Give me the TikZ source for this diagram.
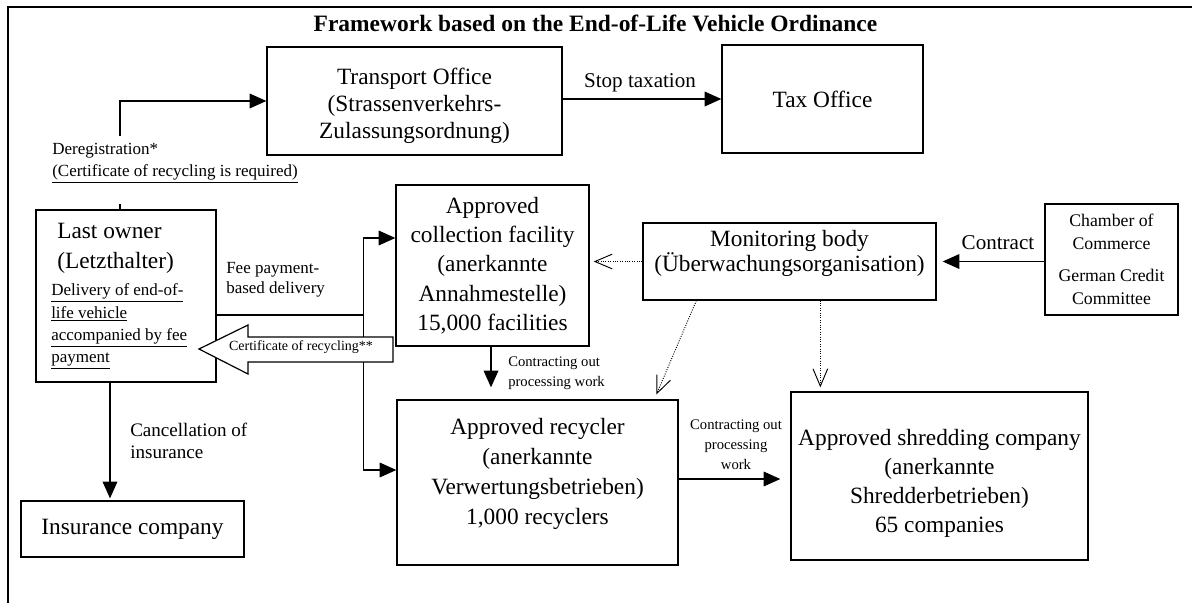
\documentclass[tikz,border=0pt]{standalone}
\usepackage{fontspec}
\setmainfont{Liberation Serif}
\usetikzlibrary{arrows.meta,calc}

\begin{document}
\begin{tikzpicture}[x=0.75pt,y=-0.75pt,
  every node/.style={inner sep=0pt},
  box/.style={draw,line width=1pt,rectangle,align=center},
  bw/.style={minimum width=#1*0.75pt},
  bh/.style={minimum height=#1*0.75pt},
  big/.style={font=\fontsize{17.5}{#1}\selectfont,align=center},
  big/.default=21,
  mid/.style={font=\fontsize{15.8}{19}\selectfont},
  small/.style={font=\fontsize{12.75}{#1}\selectfont},
  small/.default=16.5,
  note/.style={font=\fontsize{11}{#1}\selectfont},
  note/.default=15,
  conn/.style={line width=0.9pt},
  flow/.style={line width=0.9pt,-{Triangle[length=12.5pt,width=11pt]}},
  watch/.style={line width=0.7pt,dash pattern=on 0.7pt off 1.1pt,
    -{Straight Barb[length=13pt,width=11pt,line width=0.7pt]}}
]
\useasboundingbox (0,0) rectangle (1192,603);

% outer frame (left and top edges)
\draw[line width=1pt] (8,603) -- (8,7) -- (1192,7);

\node[font=\bfseries\fontsize{17.6}{21}\selectfont] (title) at (595.5,23)
  {Framework based on the End-of-Life Vehicle Ordinance};

% ---- boxes ----
\node[box,bw=295,bh=108] (transport) at (414.5,101) {};
\node[big=20.25] (transporttext) at (414.5,106)
  {Transport Office\\(Strassenverkehrs-\\Zulassungsordnung)};
\node[box,bw=201,bh=108,big] (tax) at (822.5,99) {Tax Office};

\node[box,bw=180,bh=172] (owner) at (126,296) {};
\node[anchor=west,align=left,font=\fontsize{17.5}{22.5}\selectfont] (ownername) at (57,248)
  {Last owner\\(Letzthalter)};
\node[anchor=west,align=left,small=16.75] (ownernote) at (51,326.5)
  {\underline{Delivery of end-of-}\\\underline{life vehicle}\\\underline{accompanied by fee}\\\underline{payment}};

\node[box,bw=193,bh=161,big=22] (collect) at (492.5,265.5)
  {Approved\\collection facility\\(anerkannte\\Annahmestelle)\\15,000 facilities};

\node[box,bw=293,bh=77] (monitor) at (789.5,261.5) {};
\node[big=19] (monitortext) at (789.5,253.5) {Monitoring body\\(Überwachungsorganisation)};

\node[box,bw=133,bh=111,font=\fontsize{13.3}{17.25}\selectfont] (chamber) at (1111.5,259.5)
  {Chamber of\\Commerce\\[6.75pt]German Credit\\Committee};

\node[box,bw=281,bh=165] (recycler) at (537.5,482.5) {};
\node[big=22.5] (recyclertext) at (537.5,473.5)
  {Approved recycler\\(anerkannte\\Verwertungsbetrieben)\\1,000 recyclers};

\node[box,bw=297,bh=168] (shredder) at (939.5,476) {};
\node[big=21.75] (shreddertext) at (939.5,483.5)
  {Approved shredding company\\(anerkannte\\Shredderbetrieben)\\65 companies};

\node[box,bw=223,bh=56,big] (insurance) at (132.5,529) {Insurance company};

% ---- deregistration ----
\coordinate (dregA) at ($(owner.north)+(-6,0)$);
\coordinate (dregB) at ($(dregA)+(0,-5)$);
\coordinate (dregC) at ($(dregA)+(0,-73)$);
\draw[conn] (dregA) -- (dregB);
\draw[flow] (dregC) |- (transport.west);
\node[anchor=west,align=left,small=16.5] (dreglabel) at (52,163)
  {Deregistration*\\\underline{(Certificate of recycling is required)}};

% ---- tax ----
\draw[flow] (transport.east |- tax.west) -- (tax.west);
\node[mid] (stoplabel) at (640,83) {Stop taxation};

% ---- contract ----
\draw[flow,shorten >=4.5pt] (chamber.west |- monitor.east) -- (monitor.east);
\node[mid] (contractlabel) at (998,243) {Contract};

% ---- monitoring (dotted) ----
\draw[watch,shorten >=3pt] (monitor.west) -- (monitor.west -| collect.east);
\coordinate (mA) at ($(monitor.south west)+(54,0)$);
\coordinate (rA) at ($(recycler.north west)+(258,0)$);
\draw[watch,shorten >=4pt] (mA) -- (rA);
\coordinate (mB) at ($(monitor.south west)+(178,0)$);
\draw[watch,shorten >=3pt] (mB) -- (mB |- shredder.north);

% ---- delivery ----
\coordinate (feeA) at ($(owner.east)+(0,19)$);
\coordinate (fj) at ($(feeA)+(147,0)$);
\draw[conn] (feeA) -- (fj);
\draw[flow] (fj) |- ($(collect.west)+(0,-27.5)$);
\draw[flow] (fj) |- ($(recycler.west)+(0,-12.5)$);
\node[anchor=west,align=left,small=15] (feelabel) at (226,280)
  {Fee payment-\\based delivery};

% certificate returned to the last owner (hollow arrow)
\draw[line width=0.9pt,fill=white] (199,349) -- (248,325) -- (248,337) -- (393,337)
  -- (393,362) -- (248,362) -- (248,374) -- cycle;
\node[font=\fontsize{10.5}{12}\selectfont] (certlabel) at (301,347) {Certificate of recycling**};

% ---- processing chain ----
\coordinate (cA) at ($(collect.south)+(-1.5,0)$);
\draw[flow,shorten >=9pt] (cA) -- (cA |- recycler.north);
\node[anchor=west,align=left,note] (contract1) at (508,373) {Contracting out\\processing work};

\coordinate (rB) at ($(recycler.east)+(0,-3.5)$);
\draw[flow,shorten >=7.5pt] (rB) -- (rB -| shredder.west);
\node[align=center,note] (contract2) at (736,445) {Contracting out\\processing\\work};

% ---- insurance ----
\coordinate (oA) at ($(owner.south)+(-16,0)$);
\draw[flow,shorten >=1.5pt] (oA) -- (oA |- insurance.north);
\node[anchor=west,align=left,font=\fontsize{14.3}{16.5}\selectfont] (cancellabel) at (130,441)
  {Cancellation of\\insurance};

\end{tikzpicture}
\end{document}
